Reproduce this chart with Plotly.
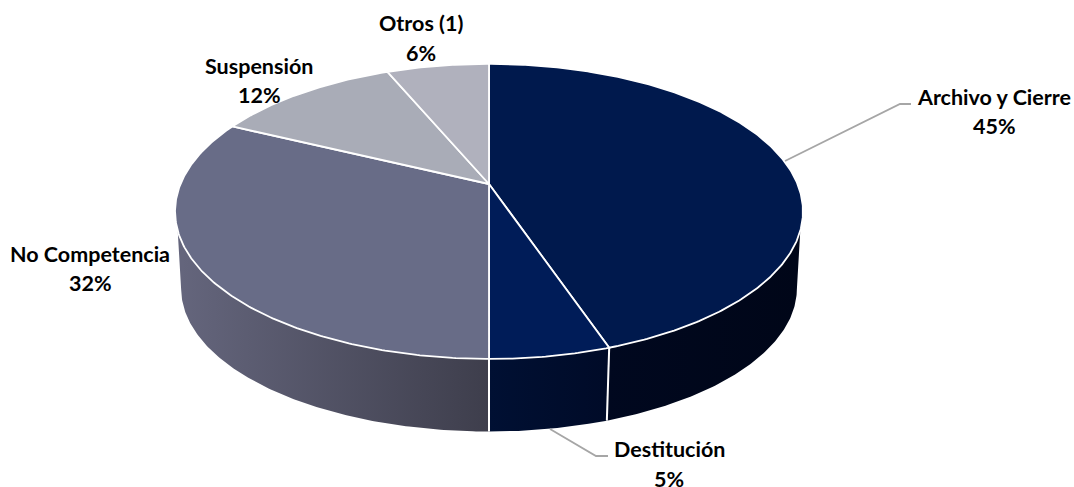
import numpy as np
import plotly.graph_objects as go

categories = ["Archivo y Cierre", "Destitución", "No Competencia", "Suspensión", "Otros (1)"]
values = [44.8, 5.2, 32.2, 11.5, 6.3]
top_colors = ["#00194D", "#001C58", "#686C87", "#A9ACB7", "#B0B1BD"]

# Perspective model of the pie disc, in page pixels
CX, K = 489, 0.186
TOP = dict(a=308.5, b=142.4, y0=184)
BOT = dict(a=302.5, b=138.0, y0=262)


def proj(theta_deg, ring):
    t = np.radians(theta_deg)
    u, v = np.sin(t), np.cos(t)
    w = 1 + K * v
    return CX + ring["a"] * u / w, ring["y0"] - ring["b"] * v / w


def arc(t0, t1):
    return np.linspace(t0, t1, max(2, int(abs(t1 - t0) * 2) + 1))


edges = np.concatenate([[0], np.cumsum(values)]) * 360.0 / sum(values)
fig = go.Figure()


def side(t_top, t_bot, grad, x0, x1):
    """Side wall between the top rim arc t_top and the bottom rim arc t_bot."""
    xa, ya = proj(arc(*t_top), TOP)
    xb, yb = proj(arc(*t_bot)[::-1], BOT)
    fig.add_trace(go.Scatter(
        x=np.r_[xa, xb, xa[0]], y=np.r_[ya, yb, ya[0]],
        mode="lines", line=dict(color="rgba(0,0,0,0)", width=0),
        fill="toself", hoverinfo="skip", showlegend=False,
        fillgradient=dict(type="horizontal", start=x0, stop=x1,
                          colorscale=[[0, grad[0]], [1, grad[1]]]),
    ))


# Visible walls: right end of Archivo, Destitución, left part of No Competencia
side((108, edges[1]), (101, edges[1]), ("#00081F", "#000618"), 606, 800)
side((edges[1], edges[2]), (edges[1], edges[2]), ("#001033", "#000B28"), 489, 606)
side((edges[2], 252), (edges[2], 259), ("#3E3E4C", "#64657C"), 489, 182)

# Wall separators
for e in (edges[1], edges[2]):
    xa, ya = proj(e, TOP)
    xb, yb = proj(e, BOT)
    fig.add_trace(go.Scatter(x=[xa, xb], y=[ya, yb], mode="lines",
                             line=dict(color="white", width=2),
                             hoverinfo="skip", showlegend=False))

# Top slices
for i, name in enumerate(categories):
    xs, ys = proj(arc(edges[i], edges[i + 1]), TOP)
    fig.add_trace(go.Scatter(
        x=np.r_[CX, xs, CX], y=np.r_[TOP["y0"], ys, TOP["y0"]],
        mode="lines", line=dict(color="white", width=1.8),
        fill="toself", fillcolor=top_colors[i], name=name,
        text=f"{name} {values[i]:.0f}%", hoverinfo="text", showlegend=False,
    ))

# Labels: (centre x, name-line y, value-line y)
label_pos = [(994, 97, 126), (669, 449, 479), (90, 254, 283), (259, 66, 95), (421, 23, 53)]
annotations = []
for name, val, (lx, y1, y2) in zip(categories, values, label_pos):
    for txt, yy in ((name, y1), (f"{val:.0f}%", y2)):
        annotations.append(dict(x=lx, y=yy, xref="x", yref="y", text=f"<b>{txt}</b>",
                                showarrow=False, xanchor="center", yanchor="middle",
                                font=dict(family="Lato", size=21.5, color="#000000")))

leaders = [[(785, 161), (900, 104), (911, 104)], [(550, 429), (596, 456), (608, 456)]]
shapes = []
for pts in leaders:
    path = "M " + " L ".join(f"{a},{b}" for a, b in pts)
    shapes.append(dict(type="path", path=path, xref="x", yref="y",
                       line=dict(color="#A6A6A6", width=1.8)))

fig.update_layout(
    width=1074, height=487, margin=dict(l=0, r=0, t=0, b=0),
    paper_bgcolor="white", plot_bgcolor="white", showlegend=False,
    xaxis=dict(range=[0, 1074], visible=False, fixedrange=True),
    yaxis=dict(range=[487, 0], visible=False, fixedrange=True),
    annotations=annotations, shapes=shapes,
)
fig.write_html("out.html", config=dict(displayModeBar=False),
               post_script="document.body.style.margin='0';document.body.style.overflow='hidden';")
